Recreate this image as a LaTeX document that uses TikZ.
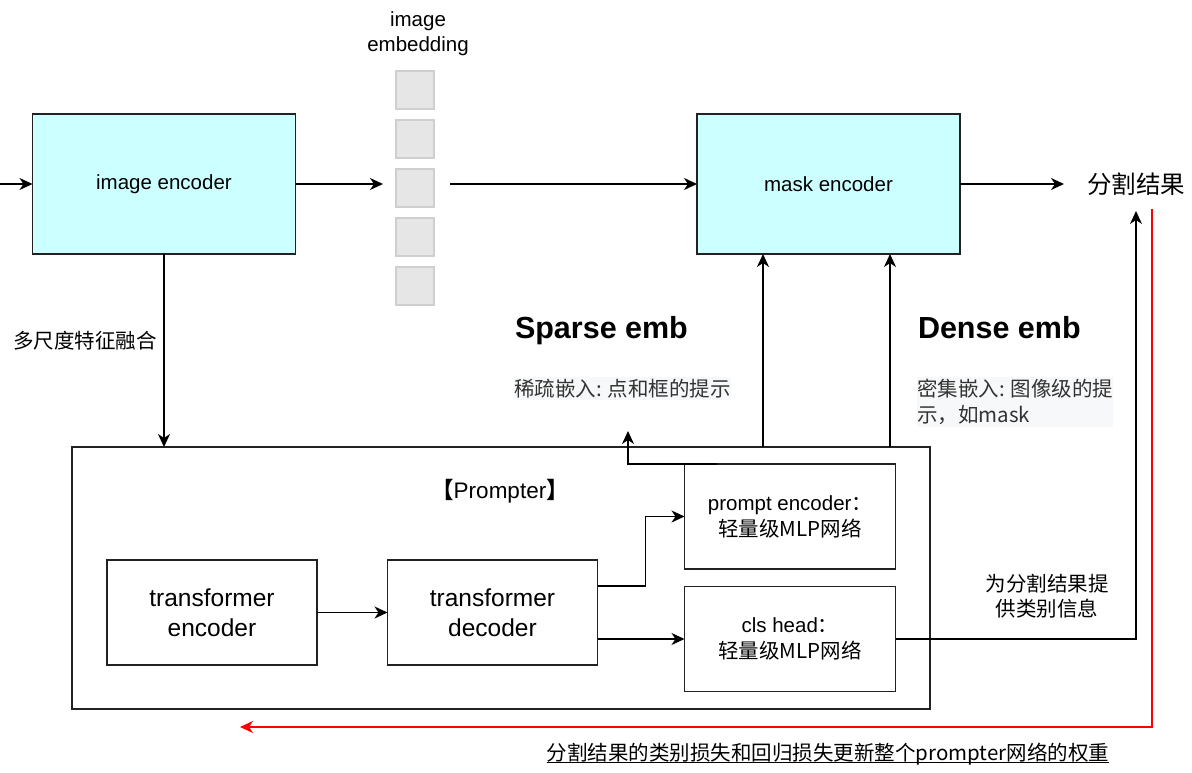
\documentclass[tikz,border=0pt]{standalone}
\usepackage{fontspec}
\setmainfont{Liberation Sans}
\newfontfamily\cjk{Noto Sans CJK SC}
\usetikzlibrary{arrows.meta,calc}
\definecolor{cyanfill}{HTML}{CCFFFF}
\definecolor{embfill}{HTML}{E6E6E6}
\definecolor{embline}{HTML}{CFCFCF}
\definecolor{graytext}{HTML}{333333}
\definecolor{graybg}{HTML}{F7F8F9}
\definecolor{boxline}{HTML}{222222}
\definecolor{lossred}{HTML}{FF0000}
\newcommand\fsz[2]{\fontsize{#1}{#2}\selectfont}
\begin{document}
\begin{tikzpicture}[x=1pt,y=-1pt,
  box/.style={draw=boxline,line width=1.6pt,inner sep=0pt,outer sep=0pt,align=center},
  cyanbox/.style={box,fill=cyanfill,minimum width=263pt,minimum height=140pt,font=\fsz{20.5}{25}},
  tfbox/.style={box,minimum width=210pt,minimum height=105pt,font=\fsz{24.5}{30}},
  mlpbox/.style={box,minimum width=211pt,minimum height=105pt,font=\fsz{20.5}{26}},
  embbox/.style={draw=embline,fill=embfill,line width=2pt,minimum size=38pt,inner sep=0pt,outer sep=0pt},
  plain/.style={inner sep=0pt,outer sep=0pt,align=center,font=\fsz{20.5}{25}},
  heading/.style={inner sep=0pt,outer sep=0pt,font=\fsz{30.5}{36}\bfseries},
  note/.style={inner xsep=0pt,inner ysep=2pt,outer sep=0pt,align=left,fill=graybg,text=graytext,font=\fsz{20.5}{26}\cjk},
  arr/.style={line width=1.6pt,draw=black,-{Stealth[length=13pt,width=12pt,inset=4pt]}},
  redarr/.style={line width=1.5pt,draw=lossred,-{Stealth[length=13pt,width=12pt,inset=4pt]}}
]
\useasboundingbox (0,0) rectangle (1192,773);

% top row
\node[cyanbox] (imgenc) at (164,184) {image encoder};
\node[cyanbox] (mask) at (828.5,184) {mask encoder};
\node[embbox] (e1) at (415,90) {};
\node[embbox] (e2) at (415,139) {};
\node[embbox] (e3) at (415,188) {};
\node[embbox] (e4) at (415,237) {};
\node[embbox] (e5) at (415,286) {};
\node[plain] (emblabel) at (418,33.5) {image\\embedding};
\node[plain,font=\fsz{24.5}{30}\cjk] (result) at (1136,184) {分割结果};

% prompter
\node[box,minimum width=858pt,minimum height=262pt] (prompter) at (501,578) {};
\node[plain,font=\fsz{22.5}{27}] (ptitle) at (500,491) {{\cjk\bfseries 【}Prompter{\cjk\bfseries 】}};
\node[tfbox] (te) at (212,612.5) {transformer\\encoder};
\node[tfbox] (td) at (492.5,612.5) {transformer\\decoder};
\node[mlpbox] (pe) at (790,516.5) {prompt encoder{\cjk ：}\\{\cjk 轻量级MLP网络}};
\node[mlpbox] (cls) at (790,639) {cls head{\cjk ：}\\{\cjk 轻量级MLP网络}};

% labels
\node[plain,font=\fsz{20.5}{25}\cjk] (fuse) at (85,341) {多尺度特征融合};
\node[heading,anchor=base west] (sparse) at (515,338) {Sparse emb};
\node[heading,anchor=base west] (dense) at (918,338) {Dense emb};
\node[note,anchor=north west] (sparsenote) at (514,377) {稀疏嵌入: 点和框的提示};
\node[note,anchor=north west] (densenote) at (917,377) {密集嵌入: 图像级的提\\示，如mask};
\node[plain,font=\fsz{20.5}{25}\cjk] (clsinfo) at (1047,596) {为分割结果提\\供类别信息};
\node[plain,anchor=base,font=\fsz{20.5}{25}\cjk] (caption) at (828,760) {分割结果的类别损失和回归损失更新整个prompter网络的权重};
\draw[line width=1.3pt] ([yshift=-2.5pt]caption.base west) -- ([yshift=-2.5pt]caption.base east);

% connectors
\coordinate (in) at (0,184);
\coordinate (embin) at (383,184);
\coordinate (embout) at (450,184);
\coordinate (resin) at (1064,184);
\draw[arr] (in) -- (imgenc.west);
\draw[arr] (imgenc.east) -- (embin);
\draw[arr] (embout) -- (mask.west);
\draw[arr] (mask.east) -- (resin);
\draw[arr] (imgenc.south) -- (imgenc.south |- prompter.north);
\draw[arr] (te.east) -- (td.west);
\draw[arr] ([yshift=26.5pt]td.east) -- ++(48,0) |- (pe.west);
\draw[arr] ([yshift=-26.5pt]td.east) -- (cls.west);
\coordinate (sp) at (628,431);
\draw[arr] ([xshift=32pt]pe.north west) -| (sp);
\coordinate (m1) at (763,447);
\coordinate (m2) at (890,447);
\draw[arr] (m1) -- (m1 |- mask.south);
\draw[arr] (m2) -- (m2 |- mask.south);
\coordinate (resup) at (1136,211);
\draw[arr] (cls.east) -| (resup);
\coordinate (r1) at (1152,209);
\coordinate (r2) at (240,727);
\draw[redarr] (r1) |- (r2);
\end{tikzpicture}
\end{document}
